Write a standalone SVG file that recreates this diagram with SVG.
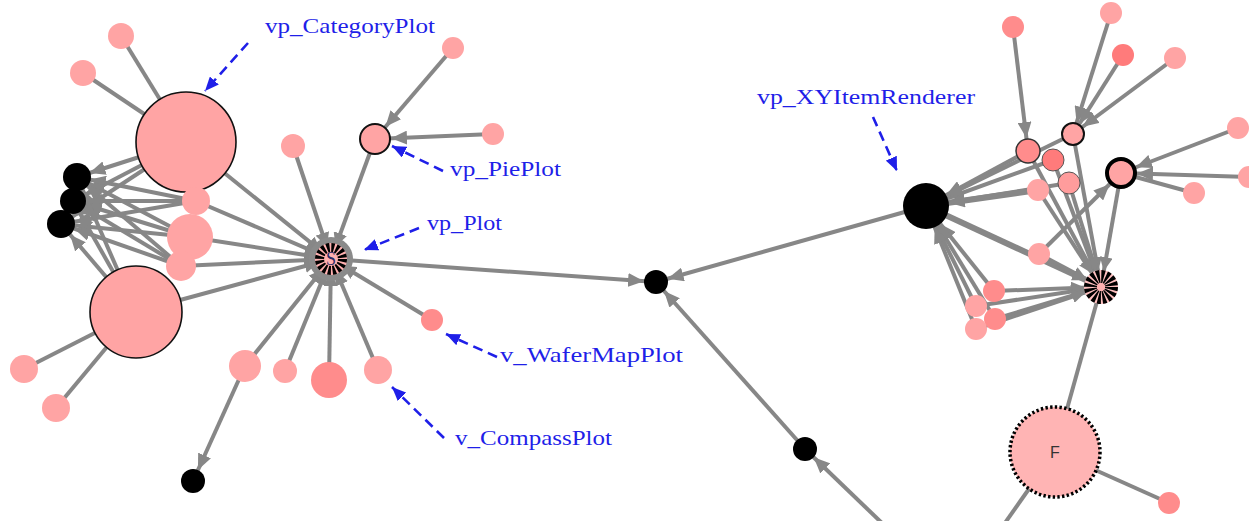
<svg xmlns="http://www.w3.org/2000/svg" width="1249" height="521" viewBox="0 0 1249 521">
<style>
.e{stroke:#878787;stroke-width:4;fill:none}
.et{stroke:#878787;stroke-width:6;fill:none}
.pk{fill:#FFA4A4}
.pd{fill:#FF8C8C}
.pr{fill:#FF7B7B}
.bk{fill:#000}
.ol{stroke:#111;stroke-width:1.6}
.lab{font-family:"Liberation Serif","DejaVu Serif",serif;font-size:21px;fill:#1f1fe8}
.ba{stroke:#1f1fe8;stroke-width:2.6;stroke-dasharray:10 6;fill:none;marker-end:url(#mb)}
</style>
<defs>
<marker id="mb" markerUnits="userSpaceOnUse" markerWidth="14" markerHeight="12" refX="14" refY="6" orient="auto"><path d="M0,0L14,6L0,12z" fill="#1f1fe8"/></marker>
<marker id="m11" markerUnits="userSpaceOnUse" markerWidth="16" markerHeight="14" refX="27" refY="7" orient="auto"><path d="M0,0L16,7L0,14z" fill="#878787"/></marker>
<marker id="m12" markerUnits="userSpaceOnUse" markerWidth="16" markerHeight="14" refX="28" refY="7" orient="auto"><path d="M0,0L16,7L0,14z" fill="#878787"/></marker>
<marker id="m13" markerUnits="userSpaceOnUse" markerWidth="16" markerHeight="14" refX="29" refY="7" orient="auto"><path d="M0,0L16,7L0,14z" fill="#878787"/></marker>
<marker id="m14" markerUnits="userSpaceOnUse" markerWidth="16" markerHeight="14" refX="30" refY="7" orient="auto"><path d="M0,0L16,7L0,14z" fill="#878787"/></marker>
<marker id="m16" markerUnits="userSpaceOnUse" markerWidth="16" markerHeight="14" refX="32" refY="7" orient="auto"><path d="M0,0L16,7L0,14z" fill="#878787"/></marker>
<marker id="m23" markerUnits="userSpaceOnUse" markerWidth="16" markerHeight="14" refX="39" refY="7" orient="auto"><path d="M0,0L16,7L0,14z" fill="#878787"/></marker>
<marker id="mS" markerUnits="userSpaceOnUse" markerWidth="14" markerHeight="14" refX="27" refY="7" orient="auto"><path d="M0,0L14,7L0,14z" fill="#878787"/></marker>
<marker id="mP" markerUnits="userSpaceOnUse" markerWidth="14" markerHeight="13" refX="30" refY="6.5" orient="auto"><path d="M0,0L14,6.5L0,13z" fill="#878787"/></marker>
</defs>

<g id="connectors">
<line class="e" x1="121" y1="36" x2="186" y2="142"/>
<line class="e" x1="83" y1="73" x2="186" y2="142"/>
<line class="e" x1="24" y1="369" x2="136" y2="312"/>
<line class="e" x1="56" y1="408" x2="136" y2="312"/>
<line class="e" x1="186" y1="142" x2="77" y2="177" marker-end="url(#m13)"/>
<line class="e" x1="186" y1="142" x2="73" y2="201" marker-end="url(#m13)"/>
<line class="e" x1="186" y1="142" x2="61" y2="224" marker-end="url(#m14)"/>
<line class="e" x1="196" y1="201" x2="77" y2="177" marker-end="url(#m13)"/>
<line class="e" x1="196" y1="201" x2="73" y2="201" marker-end="url(#m13)"/>
<line class="e" x1="196" y1="201" x2="61" y2="224" marker-end="url(#m14)"/>
<line class="e" x1="190" y1="237" x2="77" y2="177" marker-end="url(#m13)"/>
<line class="e" x1="190" y1="237" x2="73" y2="201" marker-end="url(#m13)"/>
<line class="e" x1="190" y1="237" x2="61" y2="224" marker-end="url(#m14)"/>
<line class="e" x1="181" y1="266" x2="77" y2="177" marker-end="url(#m13)"/>
<line class="e" x1="181" y1="266" x2="73" y2="201" marker-end="url(#m13)"/>
<line class="e" x1="181" y1="266" x2="61" y2="224" marker-end="url(#m14)"/>
<line class="e" x1="136" y1="312" x2="77" y2="177" marker-end="url(#m13)"/>
<line class="e" x1="136" y1="312" x2="73" y2="201" marker-end="url(#m13)"/>
<line class="e" x1="136" y1="312" x2="61" y2="224" marker-end="url(#m14)"/>
<line class="e" x1="186" y1="142" x2="331" y2="259" marker-end="url(#mS)"/>
<line class="e" x1="136" y1="312" x2="331" y2="259" marker-end="url(#mS)"/>
<line class="e" x1="196" y1="201" x2="331" y2="259" marker-end="url(#mS)"/>
<line class="e" x1="190" y1="237" x2="331" y2="259" marker-end="url(#mS)"/>
<line class="e" x1="181" y1="266" x2="331" y2="259" marker-end="url(#mS)"/>
<line class="e" x1="293" y1="146" x2="331" y2="259" marker-end="url(#mS)"/>
<line class="e" x1="375" y1="139" x2="331" y2="259" marker-end="url(#mS)"/>
<line class="e" x1="432" y1="320" x2="331" y2="259" marker-end="url(#mS)"/>
<line class="e" x1="378" y1="370" x2="331" y2="259" marker-end="url(#mS)"/>
<line class="e" x1="329" y1="380" x2="331" y2="259" marker-end="url(#mS)"/>
<line class="e" x1="285" y1="371" x2="331" y2="259" marker-end="url(#mS)"/>
<line class="e" x1="245" y1="366" x2="331" y2="259" marker-end="url(#mS)"/>
<line class="e" x1="245" y1="366" x2="193" y2="481" marker-end="url(#m12)"/>
<line class="e" x1="453" y1="48" x2="375" y2="139" marker-end="url(#m16)"/>
<line class="e" x1="493" y1="134" x2="375" y2="139" marker-end="url(#m16)"/>
<line class="e" x1="331" y1="259" x2="656" y2="282" marker-end="url(#m12)"/>
<line class="e" x1="926" y1="206" x2="656" y2="282" marker-end="url(#m12)"/>
<line class="e" x1="805" y1="449" x2="656" y2="282" marker-end="url(#m12)"/>
<line class="e" x1="910" y1="550" x2="805" y2="449" marker-end="url(#m12)"/>
<line class="e" x1="1013" y1="27" x2="1028" y2="151" marker-end="url(#m13)"/>
<line class="e" x1="1111" y1="13" x2="1073" y2="134" marker-end="url(#m12)"/>
<line class="e" x1="1123" y1="55" x2="1073" y2="134" marker-end="url(#m12)"/>
<line class="e" x1="1175" y1="58" x2="1073" y2="134" marker-end="url(#m12)"/>
<line class="e" x1="1238" y1="128" x2="1121" y2="173" marker-end="url(#m16)"/>
<line class="e" x1="1252" y1="177" x2="1121" y2="173" marker-end="url(#m16)"/>
<line class="e" x1="1194" y1="193" x2="1121" y2="173"/>
<line class="e" x1="1039" y1="254" x2="1121" y2="173" marker-end="url(#m16)"/>
<line class="e" x1="1028" y1="151" x2="926" y2="206" marker-end="url(#m23)"/>
<line class="e" x1="1053" y1="160" x2="926" y2="206" marker-end="url(#m23)"/>
<line class="e" x1="1073" y1="134" x2="926" y2="206" marker-end="url(#m23)"/>
<line class="e" x1="1069" y1="183" x2="926" y2="206" marker-end="url(#m23)"/>
<line class="et" x1="1038" y1="190" x2="926" y2="206" marker-end="url(#m23)"/>
<line class="e" x1="994" y1="291" x2="926" y2="206" marker-end="url(#m23)"/>
<line class="e" x1="976" y1="306" x2="926" y2="206" marker-end="url(#m23)"/>
<line class="e" x1="995" y1="319" x2="926" y2="206" marker-end="url(#m23)"/>
<line class="e" x1="976" y1="329" x2="926" y2="206" marker-end="url(#m23)"/>
<line class="et" x1="926" y1="206" x2="1101" y2="287" marker-end="url(#mP)"/>
<line class="e" x1="1028" y1="151" x2="1101" y2="287" marker-end="url(#mP)"/>
<line class="e" x1="1053" y1="160" x2="1101" y2="287" marker-end="url(#mP)"/>
<line class="e" x1="1073" y1="134" x2="1101" y2="287" marker-end="url(#mP)"/>
<line class="e" x1="1069" y1="183" x2="1101" y2="287" marker-end="url(#mP)"/>
<line class="e" x1="1038" y1="190" x2="1101" y2="287" marker-end="url(#mP)"/>
<line class="e" x1="1121" y1="173" x2="1101" y2="287" marker-end="url(#mP)"/>
<line class="e" x1="1039" y1="254" x2="1101" y2="287" marker-end="url(#mP)"/>
<line class="e" x1="994" y1="291" x2="1101" y2="287" marker-end="url(#mP)"/>
<line class="e" x1="976" y1="306" x2="1101" y2="287" marker-end="url(#mP)"/>
<line class="e" x1="995" y1="319" x2="1101" y2="287" marker-end="url(#mP)"/>
<line class="e" x1="976" y1="329" x2="1101" y2="287" marker-end="url(#mP)"/>
<line class="e" x1="1101" y1="287" x2="1055" y2="452"/>
<line class="e" x1="1055" y1="452" x2="1169" y2="503"/>
<line class="e" x1="1055" y1="452" x2="1000" y2="530"/>
</g>

<g id="node-t1"><circle class="pk" cx="121" cy="36" r="13"/></g>
<g id="node-t2"><circle class="pk" cx="83" cy="73" r="13"/></g>
<g id="node-CategoryPlot"><circle class="pk ol" cx="186" cy="142" r="50"/></g>
<g id="node-big2"><circle class="pk ol" cx="136" cy="312" r="46"/></g>
<g id="node-b1"><circle class="bk" cx="77" cy="177" r="14"/></g>
<g id="node-b2"><circle class="bk" cx="73" cy="201" r="13"/></g>
<g id="node-b3"><circle class="bk" cx="61" cy="224" r="14"/></g>
<g id="node-p1"><circle class="pk" cx="196" cy="201" r="14"/></g>
<g id="node-p2"><circle class="pk" cx="190" cy="237" r="23"/></g>
<g id="node-p3"><circle class="pk" cx="181" cy="266" r="15"/></g>
<g id="node-l1"><circle class="pk" cx="24" cy="369" r="14"/></g>
<g id="node-l2"><circle class="pk" cx="56" cy="408" r="14"/></g>
<g id="node-p4"><circle class="pk" cx="245" cy="366" r="16"/></g>
<g id="node-bk"><circle class="bk" cx="193" cy="481" r="12"/></g>
<g id="node-n293"><circle class="pk" cx="293" cy="146" r="12"/></g>
<g id="node-PiePlot"><circle class="pk" cx="375" cy="139" r="15" stroke="#111" stroke-width="2"/></g>
<g id="node-n453"><circle class="pk" cx="453" cy="48" r="11"/></g>
<g id="node-n493"><circle class="pk" cx="493" cy="134" r="11"/></g>
<g id="node-WaferMapPlot"><circle class="pd" cx="432" cy="320" r="11"/></g>
<g id="node-CompassPlot"><circle class="pk" cx="378" cy="370" r="14"/></g>
<g id="node-n329"><circle class="pd" cx="329" cy="380" r="18"/></g>
<g id="node-n285"><circle class="pk" cx="285" cy="371" r="12"/></g>
<g id="node-Plot">
<circle cx="331" cy="259" r="22" fill="#8a8a8a"/>
<circle cx="331" cy="259" r="16" fill="#FFB0B0"/>
<circle cx="331" cy="259" r="10.5" fill="none" stroke="#000" stroke-width="11" stroke-dasharray="2.6 1.52"/>
<circle cx="331" cy="259" r="7" fill="#FFB0B0"/>
<text x="331" y="265" text-anchor="middle" font-family="Liberation Serif, serif" font-size="18" fill="#2a2a66">S</text>
</g>
<g id="node-mid1"><circle class="bk" cx="656" cy="282" r="12"/></g>
<g id="node-mid2"><circle class="bk" cx="805" cy="449" r="12"/></g>
<g id="node-XYItemRenderer"><circle class="bk" cx="926" cy="206" r="23"/></g>
<g id="node-r1"><circle class="pd" cx="1013" cy="27" r="11"/></g>
<g id="node-r2"><circle class="pk" cx="1111" cy="13" r="11"/></g>
<g id="node-r3"><circle class="pr" cx="1123" cy="55" r="11"/></g>
<g id="node-r4"><circle class="pk" cx="1175" cy="58" r="11"/></g>
<g id="node-r5"><circle class="pd" cx="1028" cy="151" r="12" stroke="#333" stroke-width="1.5"/></g>
<g id="node-r6"><circle class="pk" cx="1073" cy="134" r="11" stroke="#111" stroke-width="2"/></g>
<g id="node-r7"><circle class="pr" cx="1053" cy="160" r="11" stroke="#555" stroke-width="1"/></g>
<g id="node-r8"><circle fill="#FF9C9C" cx="1069" cy="183" r="11" stroke="#555" stroke-width="1"/></g>
<g id="node-r9"><circle class="pk" cx="1121" cy="173" r="14" stroke="#000" stroke-width="4"/></g>
<g id="node-r10"><circle class="pk" cx="1038" cy="190" r="11"/></g>
<g id="node-r11"><circle class="pk" cx="1194" cy="193" r="11"/></g>
<g id="node-r12"><circle class="pk" cx="1238" cy="128" r="11"/></g>
<g id="node-r13"><circle class="pk" cx="1249" cy="177" r="11"/></g>
<g id="node-r14"><circle class="pk" cx="1039" cy="254" r="11"/></g>
<g id="node-r15"><circle class="pd" cx="994" cy="291" r="11"/></g>
<g id="node-r16"><circle class="pk" cx="976" cy="306" r="11"/></g>
<g id="node-r17"><circle class="pd" cx="995" cy="319" r="11"/></g>
<g id="node-r18"><circle class="pk" cx="976" cy="329" r="11"/></g>
<g id="node-spoke">
<circle cx="1101" cy="287" r="17" fill="#FFC0C0"/>
<circle cx="1101" cy="287" r="10.5" fill="none" stroke="#000" stroke-width="13" stroke-dasharray="2.7 1.42"/>
<circle cx="1101" cy="287" r="4" fill="#FFB0B0"/>
</g>
<g id="node-F">
<circle cx="1055" cy="452" r="45" fill="#FFB4B4" stroke="#000" stroke-width="3.5" stroke-dasharray="2.4 2.3"/>
<text x="1055" y="458" text-anchor="middle" font-family="Liberation Sans, sans-serif" font-size="16" fill="#333">F</text>
</g>
<g id="node-r19"><circle class="pd" cx="1169" cy="503" r="11"/></g>

<g id="labels">
<text class="lab" x="265" y="33" textLength="170" lengthAdjust="spacingAndGlyphs">vp_CategoryPlot</text>
<path class="ba" d="M248,43L205,91"/>
<text class="lab" x="450" y="176" textLength="111" lengthAdjust="spacingAndGlyphs">vp_PiePlot</text>
<path class="ba" d="M443,171L392,146"/>
<text class="lab" x="427" y="230" textLength="75" lengthAdjust="spacingAndGlyphs">vp_Plot</text>
<path class="ba" d="M419,228L364,250"/>
<text class="lab" x="500" y="362" textLength="183" lengthAdjust="spacingAndGlyphs">v_WaferMapPlot</text>
<path class="ba" d="M497,357L446,334"/>
<text class="lab" x="455" y="445" textLength="157" lengthAdjust="spacingAndGlyphs">v_CompassPlot</text>
<path class="ba" d="M444,438L392,387"/>
<text class="lab" x="757" y="104" textLength="218" lengthAdjust="spacingAndGlyphs">vp_XYItemRenderer</text>
<path class="ba" d="M873,117L897,171"/>
</g>
</svg>
